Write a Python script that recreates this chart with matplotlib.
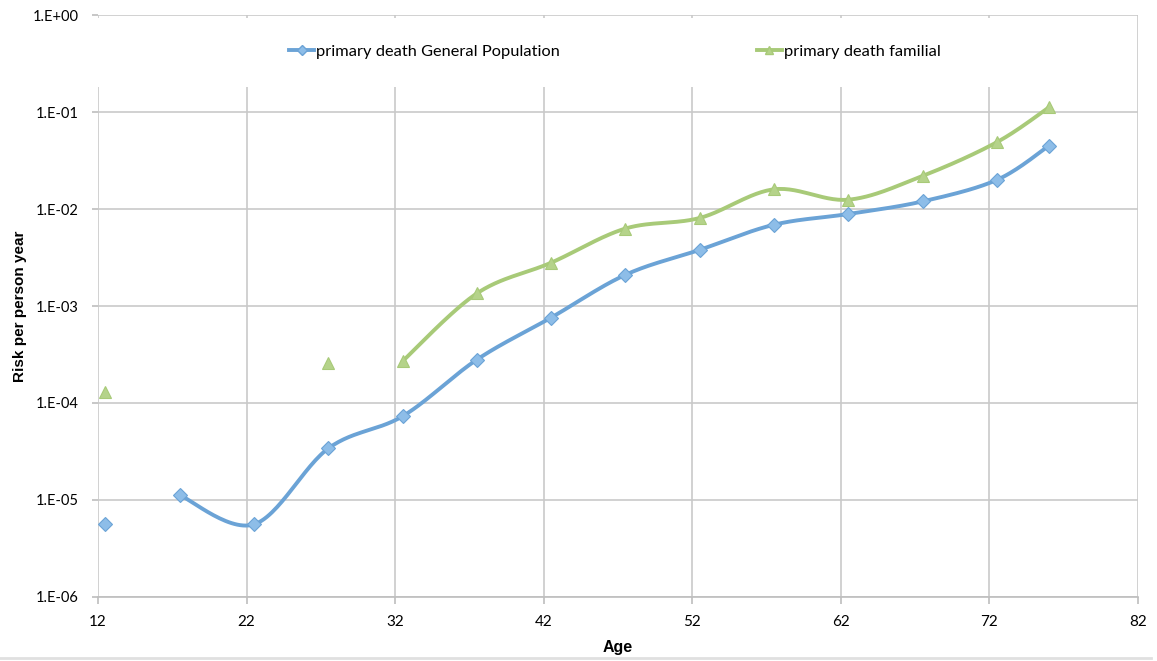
import numpy as np
import matplotlib.pyplot as plt
from matplotlib.patches import Rectangle
from matplotlib.ticker import FuncFormatter, LogLocator, NullLocator

# ages are bin midpoints
ages = [12.5, 17.5, 22.5, 27.5, 32.5, 37.5, 42.5, 47.5, 52.5, 57.5, 62.5, 67.5, 72.5, 76]
general = [5.6e-6, 1.12e-5, 5.6e-6, 3.4e-5, 7.3e-5, 2.8e-4, 7.6e-4, 2.1e-3, 3.8e-3,
           6.9e-3, 8.9e-3, 1.2e-2, 2.0e-2, 4.5e-2]
familial = [1.3e-4, None, None, 2.6e-4, 2.7e-4, 1.35e-3, 2.8e-3, 6.3e-3, 8.1e-3,
            1.6e-2, 1.25e-2, 2.2e-2, 4.9e-2, 1.12e-1]
# first index from which the smoothed line is drawn
general_line_from = 1
familial_line_from = 4

blue_line = '#6BA3D6'
blue_face = '#8DBDE8'
green_line = '#A8CA78'
green_face = '#B5D38A'


def smooth(x, y, n=30):
    # catmull-rom in (x, log y), like Excel's smoothed line
    x = np.asarray(x, float)
    ly = np.log10(np.asarray(y, float))
    px = np.concatenate([[x[0]], x, [x[-1]]])
    py = np.concatenate([[ly[0]], ly, [ly[-1]]])
    xs, ys = [], []
    for i in range(1, len(px) - 2):
        p0, p1, p2, p3 = (np.array([px[j], py[j]]) for j in range(i - 1, i + 3))
        c1 = p1 + (p2 - p0) / 6
        c2 = p2 - (p3 - p1) / 6
        t = np.linspace(0, 1, n)[:, None]
        pts = ((1 - t) ** 3) * p1 + 3 * ((1 - t) ** 2) * t * c1 + 3 * (1 - t) * t ** 2 * c2 + t ** 3 * p2
        xs.append(pts[:, 0])
        ys.append(pts[:, 1])
    return np.concatenate(xs), 10 ** np.concatenate(ys)


plt.rcParams['font.family'] = ['Lato', 'DejaVu Sans']
bold_font = ['Liberation Sans', 'DejaVu Sans']
fig = plt.figure(figsize=(11.57, 6.61), dpi=100)
ax = fig.add_axes([0.0847, 0.097, 0.8989, 0.880])

ax.set_yscale('log')
ax.set_xlim(12, 82)
ax.set_ylim(1e-6, 1e0)
ax.set_xticks(np.arange(12, 83, 10))
ax.yaxis.set_major_locator(LogLocator(base=10, numticks=10))
ax.yaxis.set_minor_locator(NullLocator())
ax.yaxis.set_major_formatter(FuncFormatter(lambda v, p: f'1.E{int(round(np.log10(v))):+03d}'))

ax.set_axisbelow(True)
ax.grid(True, color='#C9C9C9', linewidth=1.2)
for s in ['top', 'right', 'left']:
    ax.spines[s].set_visible(False)
ax.spines['bottom'].set_color('#BEBEBE')
ax.spines['bottom'].set_linewidth(1.2)
ax.tick_params(axis='both', colors='#BEBEBE', labelcolor='black', labelsize=10.5, length=4, width=1.2)
ax.tick_params(axis='y', pad=10)
ax.tick_params(axis='x', pad=8, length=5, labelsize=11)

# white band behind the legend hides the vertical gridlines (except the right edge)
ax.add_patch(Rectangle((0, 0.877), 0.996, 0.119, transform=ax.transAxes,
                       facecolor='white', edgecolor='none', zorder=1))

# general population
sx, sy = smooth(ages[general_line_from:], general[general_line_from:])
ax.plot(sx, sy, color=blue_line, linewidth=2.8, solid_capstyle='round', zorder=2)
ax.plot(ages, general, linestyle='none', marker='D', markersize=7,
        markerfacecolor=blue_face, markeredgecolor=blue_line, markeredgewidth=0.8, zorder=3)

# familial
fa = [a for a, v in zip(ages, familial) if v is not None]
fv = [v for v in familial if v is not None]
k = ages[familial_line_from]
sx, sy = smooth([a for a in fa if a >= k], [v for a, v in zip(fa, fv) if a >= k])
ax.plot(sx, sy, color=green_line, linewidth=2.8, solid_capstyle='round', zorder=2)
ax.plot(fa, fv, linestyle='none', marker='^', markersize=9,
        markerfacecolor=green_face, markeredgecolor=green_line, markeredgewidth=0.8, zorder=3)

# legend handles
h1, = ax.plot([], [], color=blue_line, linewidth=2.8, marker='D', markersize=6,
              markerfacecolor=blue_face, markeredgecolor=blue_line)
h2, = ax.plot([], [], color=green_line, linewidth=2.8, marker='^', markersize=7,
              markerfacecolor=green_face, markeredgecolor=green_line)
leg = ax.legend([h1, h2], ['primary death General Population', 'primary death familial'],
                loc='center left', bbox_to_anchor=(0.184, 0.937), ncol=2, frameon=False,
                fontsize=11.8, handlelength=1.5, handletextpad=0.15, columnspacing=12.0,
                markerscale=0.9, borderpad=0, borderaxespad=0)

ax.set_xlabel('Age', fontsize=11.5, fontweight='bold', labelpad=8, family=bold_font)
ax.set_ylabel('Risk per person year', fontsize=11, fontweight='bold', labelpad=4, family=bold_font)

fig.add_artist(plt.Line2D([0, 0.995], [0.005, 0.005], color='#E0E0E0', linewidth=2))

fig.savefig('out.png', dpi=100)
